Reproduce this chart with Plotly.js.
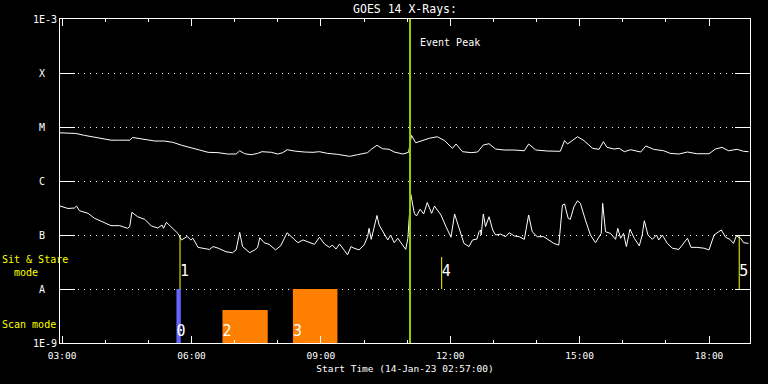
<!DOCTYPE html>
<html><head><meta charset="utf-8">
<script src="https://cdn.plot.ly/plotly-3.0.1.min.js"></script>
<style>html,body{margin:0;padding:0;background:#000}#chart{width:768px;height:384px}</style>
</head><body><div id="chart"></div>
<script>
// ---------- data ----------
const DAY = '2023-01-14 ';
const xStart = '02:57', xEnd = '18:57';
const yTickVals = [1e-9, 1e-8, 1e-7, 1e-6, 1e-5, 1e-4, 1e-3];
const yTickText = ['1E-9', 'A\u00a0\u00a0', 'B\u00a0\u00a0', 'C\u00a0\u00a0', 'M\u00a0\u00a0', 'X\u00a0\u00a0', '1E-3'];

// GOES long channel (upper curve)
const longTimes = [
 '02:57','03:19','03:31','03:45','03:59','04:08','04:18','04:34','04:38','04:55',
 '05:09','05:22','05:34','05:46','05:59','06:11','06:23','06:37','06:50','07:02',
 '07:07','07:14','07:23','07:32','07:38','07:51','08:00','08:07','08:13','08:23',
 '08:37','08:49','08:58','09:09','09:23','09:40','09:51','10:05','10:10','10:18',
 '10:26','10:35','10:42','10:54','11:02','11:03','11:06','11:12','11:21','11:31',
 '11:42','11:52','12:03','12:08','12:17','12:29','12:38','12:46','12:54','13:03',
 '13:15','13:29','13:43','13:49','13:59','14:15','14:33','14:39','14:43','14:57',
 '15:06','15:18','15:27','15:33','15:38','15:48','15:55','16:02','16:11','16:25',
 '16:32','16:43','16:57','17:06','17:18','17:30','17:43','18:00','18:09','18:18',
 '18:27','18:39','18:48','18:55'];
const longFlux = [
 7.8e-6,7.6e-6,7.0e-6,6.4e-6,6.0e-6,5.7e-6,5.7e-6,5.7e-6,6.4e-6,5.9e-6,
 5.5e-6,5.5e-6,5.2e-6,4.6e-6,4.2e-6,3.75e-6,3.4e-6,3.35e-6,3.16e-6,3.16e-6,
 3.63e-6,3.2e-6,3.07e-6,3.25e-6,3.49e-6,3.4e-6,3.16e-6,3.35e-6,3.8e-6,3.59e-6,
 3.44e-6,3.4e-6,3.49e-6,3.25e-6,3.12e-6,2.86e-6,3.07e-6,3.35e-6,3.86e-6,4.58e-6,
 3.96e-6,3.86e-6,3.44e-6,3.16e-6,3.4e-6,4.03e-6,7.0e-6,5.1e-6,5.6e-6,6.2e-6,
 6.6e-6,5.6e-6,4.03e-6,4.84e-6,3.49e-6,3.35e-6,3.44e-6,4.64e-6,4.9e-6,3.91e-6,
 3.75e-6,3.75e-6,3.63e-6,4.84e-6,3.75e-6,3.59e-6,3.55e-6,5.6e-6,4.84e-6,6.6e-6,
 5.6e-6,4.03e-6,3.86e-6,5.35e-6,4.2e-6,3.91e-6,4.03e-6,3.49e-6,3.8e-6,3.44e-6,
 4.45e-6,3.86e-6,3.63e-6,3.25e-6,3.16e-6,3.44e-6,3.2e-6,3.2e-6,3.91e-6,4.2e-6,
 3.63e-6,3.86e-6,3.55e-6,3.49e-6];

// GOES short channel (lower curve)
const shortTimes = [
 '02:57','03:08','03:17','03:20','03:24','03:36','03:45','03:59','04:08','04:20',
 '04:31','04:34','04:37','04:45','04:55','05:04','05:13','05:19','05:21','05:25',
 '05:32','05:41','05:46','05:54','05:59','06:02','06:09','06:18','06:25','06:30',
 '06:37','06:48','06:57','07:02','07:07','07:11','07:21','07:28','07:32','07:35',
 '07:41','07:48','07:57','08:04','08:13','08:23','08:28','08:35','08:44','08:51',
 '08:58','09:05','09:12','09:16','09:21','09:26','09:33','09:37','09:42','09:46',
 '09:53','10:00','10:05','10:07','10:10','10:14','10:18','10:21','10:28','10:33',
 '10:37','10:42','10:47','10:54','10:58','11:01','11:03','11:05','11:10','11:13',
 '11:18','11:23','11:28','11:34','11:38','11:42','11:47','11:54','12:01','12:06',
 '12:12','12:19','12:26','12:31','12:37','12:40','12:42','12:43','12:46','12:49',
 '12:54','12:59','13:03','13:10','13:17','13:22','13:29','13:36','13:43','13:49',
 '13:54','14:01','14:10','14:17','14:24','14:31','14:36','14:39','14:44','14:47',
 '14:52','14:57','15:01','15:08','15:15','15:22','15:27','15:30','15:32','15:36',
 '15:43','15:50','15:53','15:57','16:01','16:05','16:10','16:16','16:23','16:27',
 '16:30','16:35','16:41','16:47','16:50','16:55','17:02','17:09','17:18','17:24',
 '17:30','17:35','17:43','17:53','18:00','18:07','18:11','18:17','18:23','18:29',
 '18:34','18:38','18:44','18:48','18:55'];
const shortFlux = [
 3.44e-7,3.1e-7,3.16e-7,3.44e-7,2.82e-7,2.52e-7,2.04e-7,1.72e-7,1.49e-7,1.49e-7,
 1.33e-7,1.43e-7,2.63e-7,2.18e-7,1.95e-7,1.47e-7,1.35e-7,1.53e-7,1.33e-7,1.72e-7,
 1.39e-7,1.07e-7,8.1e-8,9.4e-8,8.1e-8,8.7e-8,5.9e-8,5.6e-8,5.4e-8,6.1e-8,
 5.7e-8,4.9e-8,4.7e-8,5.3e-8,1.12e-7,6.1e-8,4.7e-8,5.3e-8,5.9e-8,8.9e-8,
 7.2e-8,6.7e-8,5.3e-8,6.3e-8,1.1e-7,8.3e-8,7.2e-8,8.1e-8,7.2e-8,6.7e-8,
 9.1e-8,6.8e-8,5.9e-8,6.5e-8,5.5e-8,6.8e-8,5.1e-8,4.3e-8,6.1e-8,5.7e-8,
 5.3e-8,6.5e-8,9.3e-8,1.33e-7,8.3e-8,1.43e-7,2.3e-7,1.53e-7,1.07e-7,8.1e-8,
 1.0e-7,7.2e-8,8.7e-8,6.3e-8,5.4e-8,8.7e-8,2.04e-7,5.7e-7,2.52e-7,2.25e-7,
 3.0e-7,2.45e-7,4.0e-7,2.52e-7,3.44e-7,2.9e-7,2.35e-7,1.43e-7,9.1e-8,2.45e-7,
 1.33e-7,7.0e-8,6.1e-8,8.1e-8,8.4e-8,1.15e-7,1.24e-7,1.0e-7,2.45e-7,1.43e-7,
 2.18e-7,1.24e-7,1.0e-7,1.04e-7,9.3e-8,1.1e-7,9.6e-8,9.3e-8,8.3e-8,2.35e-7,
 1.15e-7,9.3e-8,9.3e-8,8.1e-8,7.0e-8,6.5e-8,3.59e-7,3.75e-7,2.04e-7,1.95e-7,
 3.33e-7,4.3e-7,3.86e-7,1.89e-7,1.0e-7,7.2e-8,9.3e-8,1.07e-7,3.86e-7,1.15e-7,
 1.07e-7,8.3e-8,1.33e-7,8.7e-8,1.07e-7,6.1e-8,1.28e-7,8.7e-8,6.3e-8,1.0e-7,
 1.84e-7,1.0e-7,8.3e-8,1.0e-7,8.1e-8,1.0e-7,7.0e-8,5.7e-8,5.4e-8,6.8e-8,
 8.7e-8,5.9e-8,5.9e-8,5.7e-8,5.3e-8,1.0e-7,1.1e-7,1.24e-7,9.1e-8,8.3e-8,
 7.0e-8,9.6e-8,8.7e-8,7.2e-8,7.0e-8];

// Scan mode observations (bars)
const scanLabels = ['0', '2', '3'];
const scanStart  = ['05:39', '06:43', '08:21'];
const scanEnd    = ['05:45', '07:46', '09:23'];
const scanTop    = [1e-8, 4.1e-9, 1e-8];
const scanBase   = 1e-9;

// Sit & Stare observations (vertical lines)
const stareLabels = ['1', '4', '5'];
const stareTimes  = ['05:44', '11:48', '18:42'];
const stareTop    = [1e-7, 3.9e-8, 1e-7];
const stareBase   = 1e-8;

// Event peak
const eventTime = '11:04';
const eventLabel = 'Event Peak';

// label heights (flux) for the numbered markers
const scanLabelFlux = 1.55e-9;
const stareLabelFlux = 2.05e-8;

// ---------- styles ----------
const MONO = 'DejaVu Sans Mono';
const scanColors = ['#6666ff', '#ff8000', '#ff8000'];
const stareColor = '#ffff00';
const eventColor = '#99cc00';

const d = t => DAY + t;
const traces = [];

scanLabels.forEach((lab, i) => {
  traces.push({
    type: 'scatter', mode: 'lines', fill: 'toself',
    x: [d(scanStart[i]), d(scanStart[i]), d(scanEnd[i]), d(scanEnd[i]), d(scanStart[i])],
    y: [scanBase, scanTop[i], scanTop[i], scanBase, scanBase],
    fillcolor: scanColors[i], line: {width: 0, color: scanColors[i]},
    hoverinfo: 'skip', showlegend: false
  });
});

stareLabels.forEach((lab, i) => {
  traces.push({
    type: 'scatter', mode: 'lines',
    x: [d(stareTimes[i]), d(stareTimes[i])],
    y: [stareBase, stareTop[i]],
    line: {color: stareColor, width: 1},
    showlegend: false
  });
});

traces.push({
  type: 'scatter', mode: 'lines', x: longTimes.map(d), y: longFlux,
  line: {color: '#ffffff', width: 1}, showlegend: false
});
traces.push({
  type: 'scatter', mode: 'lines', x: shortTimes.map(d), y: shortFlux,
  line: {color: '#ffffff', width: 1}, showlegend: false
});

traces.push({
  type: 'scatter', mode: 'lines',
  x: [d(eventTime), d(eventTime)], y: [yTickVals[0], yTickVals[yTickVals.length - 1]],
  line: {color: eventColor, width: 2}, showlegend: false
});

traces.push({
  type: 'scatter', mode: 'text',
  x: scanStart.map(d), y: scanLabels.map(() => scanLabelFlux),
  text: scanLabels, textposition: 'middle right',
  textfont: {family: MONO, size: 15, color: '#ffffff'}, showlegend: false
});
traces.push({
  type: 'scatter', mode: 'text',
  x: stareTimes.map(d), y: stareLabels.map(() => stareLabelFlux),
  text: stareLabels, textposition: 'middle right',
  textfont: {family: MONO, size: 15, color: '#ffffff'}, showlegend: false
});

const layout = {
  width: 768, height: 384,
  margin: {l: 60, r: 18, t: 19, b: 41, pad: 0},
  paper_bgcolor: '#000000', plot_bgcolor: '#000000',
  font: {family: MONO, size: 9.5, color: '#ffffff'},
  hovermode: false, showlegend: false,
  title: {text: 'GOES 14 X-Rays:', font: {family: MONO, size: 11.5, color: '#ffffff'},
          x: 0.5, xref: 'paper', xanchor: 'center', y: 0.977, yref: 'container', yanchor: 'middle'},
  xaxis: {
    type: 'date', range: [d(xStart), d(xEnd)],
    tick0: d('03:00'), dtick: 3 * 3600000, tickformat: '%H:%M',
    ticks: 'inside', ticklen: 7, tickcolor: '#ffffff', tickwidth: 1,
    minor: {dtick: 3600000, ticks: 'inside', ticklen: 3, tickcolor: '#ffffff', tickwidth: 1, showgrid: false},
    showline: true, linecolor: '#ffffff', linewidth: 1, mirror: 'ticks',
    showgrid: false, zeroline: false,
    ticklabelstandoff: 4,
    tickfont: {family: MONO, size: 9.5, color: '#ffffff'},
    title: {text: 'Start Time (14-Jan-23 02:57:00)', font: {family: MONO, size: 9.5, color: '#ffffff'}, standoff: 4},
    automargin: false
  },
  yaxis: {
    type: 'log', range: [-9, -3],
    tickvals: yTickVals, ticktext: yTickText,
    ticks: 'inside', ticklen: 15, tickcolor: '#ffffff', tickwidth: 1,
    showline: true, linecolor: '#ffffff', linewidth: 1, mirror: 'ticks',
    showgrid: true, gridcolor: '#ffffff', gridwidth: 1, griddash: '1px,5px',
    zeroline: false,
    tickfont: {family: MONO, size: 10, color: '#ffffff'},
    automargin: false
  },
  annotations: [
    {xref: 'x', yref: 'paper', x: d(eventTime), y: 0.926, xanchor: 'left', yanchor: 'middle',
     xshift: 8, text: eventLabel, showarrow: false,
     font: {family: MONO, size: 10, color: '#ffffff'}},
    {xref: 'paper', yref: 'paper', x: -0.087, y: 0.238, xanchor: 'left', yanchor: 'middle',
     align: 'left', text: 'Sit & Stare<br>\u00a0\u00a0mode', showarrow: false,
     font: {family: MONO, size: 10, color: '#ffff00'}},
    {xref: 'paper', yref: 'paper', x: -0.087, y: 0.0586, xanchor: 'left', yanchor: 'middle',
     align: 'left', text: 'Scan mode', showarrow: false,
     font: {family: MONO, size: 10, color: '#ffff00'}}
  ]
};

Plotly.newPlot('chart', traces, layout, {displayModeBar: false, staticPlot: true});
</script>
</body></html>
